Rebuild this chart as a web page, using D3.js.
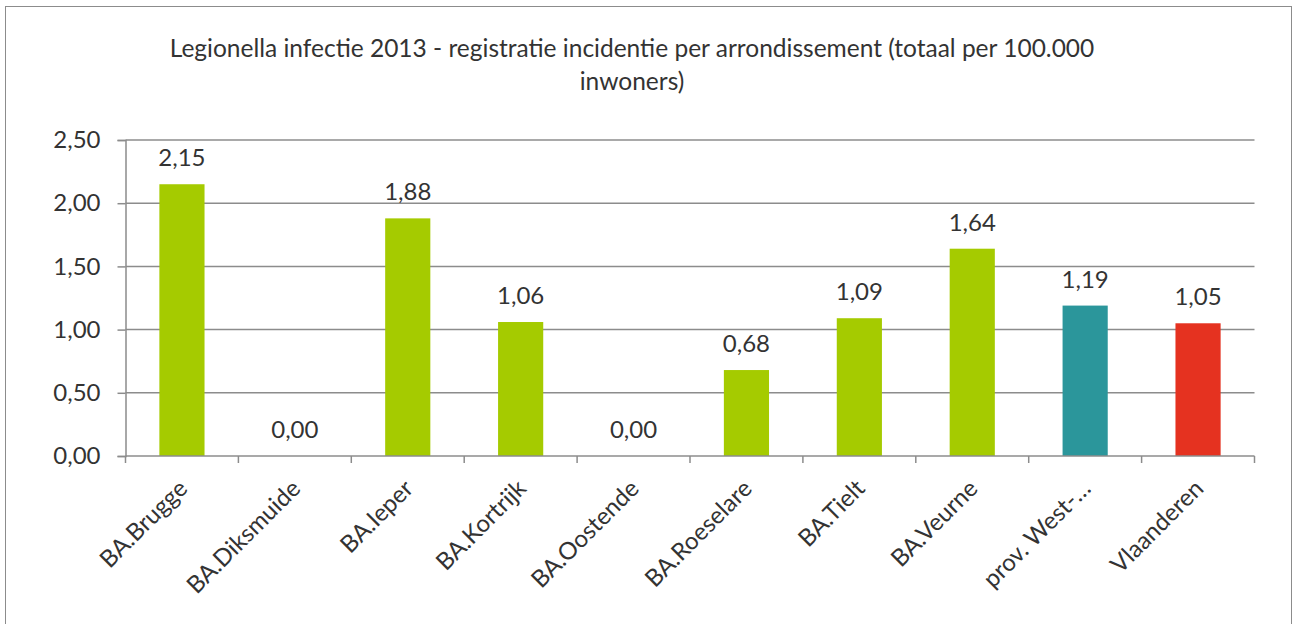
<!DOCTYPE html>
<html>
<head>
<meta charset="utf-8">
<script src="https://cdn.jsdelivr.net/npm/d3@7"></script>
<style>
  html, body { margin: 0; padding: 0; background: #fff; }
  svg { display: block; }
  text { font-family: Lato, "Open Sans", sans-serif; fill: #333; }
</style>
</head>
<body>
<svg id="chart" width="1293" height="624"></svg>
<script>
const titleLines = ["Legionella infectie 2013 - registratie incidentie per arrondissement (totaal per 100.000", "inwoners)"];
const categories = ["BA.Brugge", "BA.Diksmuide", "BA.Ieper", "BA.Kortrijk", "BA.Oostende", "BA.Roeselare", "BA.Tielt", "BA.Veurne", "prov. West-…", "Vlaanderen"];
const values = [2.15, 0.00, 1.88, 1.06, 0.00, 0.68, 1.09, 1.64, 1.19, 1.05];
const barColors = ["#a5cb00", "#a5cb00", "#a5cb00", "#a5cb00", "#a5cb00", "#a5cb00", "#a5cb00", "#a5cb00", "#2b969b", "#e53220"];
const yTicks = [0, 0.5, 1.0, 1.5, 2.0, 2.5];

(function () {
const svg = d3.select("#chart");
const fmt = v => d3.format(".2f")(v).replace(".", ",");
const FF = "Lato, 'Open Sans', sans-serif";

// outer frame
svg.append("rect").attr("x", 5.5).attr("y", 6.5).attr("width", 1286).attr("height", 630)
  .attr("fill", "none").attr("stroke", "#8c8c8c").attr("stroke-width", 1);

const pLeft = 125.5, pRight = 1254.5, pTop = 140, pBottom = 456;
const x = d3.scaleBand().domain(categories).range([pLeft, pRight]).paddingInner(0.6).paddingOuter(0.3);
const y = d3.scaleLinear().domain([0, 2.5]).range([pBottom, pTop]);

// title
const title = svg.append("text").attr("text-anchor", "middle").style("font-size", "24.5px");
titleLines.forEach((t, i) => {
  title.append("tspan").attr("x", 632).attr("y", 57 + i * 33).text(t);
});

// gridlines
svg.append("g").selectAll("line").data(yTicks.filter(d => d > 0)).join("line")
  .attr("x1", pLeft).attr("x2", pRight)
  .attr("y1", d => y(d)).attr("y2", d => y(d))
  .attr("stroke", "#8c8c8c").attr("stroke-width", 1.5);

// y axis
const yAxis = svg.append("g").attr("transform", `translate(${pLeft},0)`)
  .call(d3.axisLeft(y).tickValues(yTicks).tickFormat(fmt).tickSize(8).tickPadding(17));
yAxis.select(".domain").attr("stroke", "#8c8c8c").attr("stroke-width", 1.5);
yAxis.selectAll(".tick line").attr("stroke", "#8c8c8c").attr("stroke-width", 1.5);
yAxis.selectAll(".tick text").style("font-size", "24px").style("font-family", FF).attr("fill", "#333");

// bars
svg.append("g").selectAll("rect").data(values).join("rect")
  .attr("x", (d, i) => x(categories[i]))
  .attr("width", x.bandwidth())
  .attr("y", d => y(d))
  .attr("height", d => y(0) - y(d))
  .attr("fill", (d, i) => barColors[i]);

// value labels
svg.append("g").selectAll("text").data(values).join("text")
  .attr("x", (d, i) => x(categories[i]) + x.bandwidth() / 2)
  .attr("y", d => y(d) - 18)
  .attr("text-anchor", "middle")
  .style("font-size", "24px")
  .text(d => fmt(d));

// x axis
const boundaries = d3.range(categories.length + 1).map(i => pLeft + i * (pRight - pLeft) / categories.length);
const xg = svg.append("g");
xg.append("line").attr("x1", pLeft).attr("x2", pRight).attr("y1", pBottom).attr("y2", pBottom)
  .attr("stroke", "#8c8c8c").attr("stroke-width", 1.5);
xg.selectAll("line.tk").data(boundaries).join("line").attr("class", "tk")
  .attr("x1", d => d).attr("x2", d => d).attr("y1", pBottom).attr("y2", pBottom + 7)
  .attr("stroke", "#8c8c8c").attr("stroke-width", 1.5);
xg.selectAll("text").data(categories).join("text")
  .attr("text-anchor", "end")
  .attr("transform", d => `translate(${x(d) + x.bandwidth() / 2 + 7},${pBottom + 34}) rotate(-45)`)
  .style("font-size", "24px")
  .text(d => d);
})();
</script>
</body>
</html>
